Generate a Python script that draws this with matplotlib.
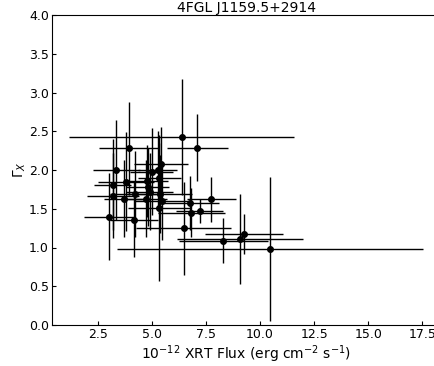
import matplotlib
matplotlib.use("Agg")
import matplotlib.pyplot as plt

title = "4FGL J1159.5+2914"

flux = [6.38, 3.95, 7.11, 3.36, 5.44, 4.99, 5.27, 5.35, 3.81, 4.76,
        3.19, 4.81, 4.90, 4.25, 3.19, 3.70, 4.72, 5.36, 5.47, 5.35,
        3.04, 4.18, 6.47, 6.79, 7.76, 7.21, 6.82, 9.26, 8.30, 9.09, 10.47]
gamma = [2.43, 2.28, 2.29, 2.00, 2.08, 1.98, 2.00, 1.90, 1.85, 1.86,
         1.81, 1.78, 1.72, 1.69, 1.67, 1.63, 1.63, 1.69, 1.60, 1.51,
         1.40, 1.36, 1.25, 1.57, 1.62, 1.47, 1.45, 1.17, 1.09, 1.11, 0.98]
flux_err = [5.2, 1.4, 1.4, 1.08, 1.25, 1.0, 0.9, 1.0, 1.3, 1.0,
            0.85, 1.0, 1.1, 1.2, 1.2, 0.9, 1.0, 1.5, 1.3, 1.45,
            1.15, 1.1, 2.2, 1.3, 1.15, 1.1, 1.55, 1.8, 2.06, 2.9, 7.07]
gamma_err = [0.75, 0.6, 0.43, 0.65, 0.47, 0.56, 0.5, 0.45, 0.64, 0.46,
             0.59, 0.5, 0.5, 0.56, 0.55, 0.5, 0.5, 0.5, 0.5, 0.94,
             0.56, 0.48, 0.6, 0.35, 0.29, 0.16, 0.32, 0.26, 0.29, 0.58, 0.93]

fig = plt.figure(figsize=(4.35, 3.66), dpi=100)
W, H = 435, 366
left, right, top, bottom = 51.7, 441, 15, 325
ax = fig.add_axes([left / W, (H - bottom) / H, (right - left) / W, (bottom - top) / H])

ax.errorbar(flux, gamma, xerr=flux_err, yerr=gamma_err, fmt='o', color='black',
            ms=4, elinewidth=1.0, capsize=0)

ax.set_xlim(0.38, 18.36)
ax.set_ylim(0.0, 4.0)
ax.set_xticks([2.5, 5.0, 7.5, 10.0, 12.5, 15.0, 17.5])
ax.set_yticks([0.0, 0.5, 1.0, 1.5, 2.0, 2.5, 3.0, 3.5, 4.0])
ax.tick_params(direction='in', length=3, width=0.8, labelsize=9, pad=2)
for s in ax.spines.values():
    s.set_linewidth(0.8)

ax.set_xlabel(r"$10^{-12}$ XRT Flux (erg cm$^{-2}$ s$^{-1}$)", fontsize=10, labelpad=2)
ax.set_ylabel(r"$\Gamma_X$", fontsize=10, labelpad=1)
ax.set_title(title, fontsize=10, pad=2)

fig.savefig("out.png", dpi=100)
